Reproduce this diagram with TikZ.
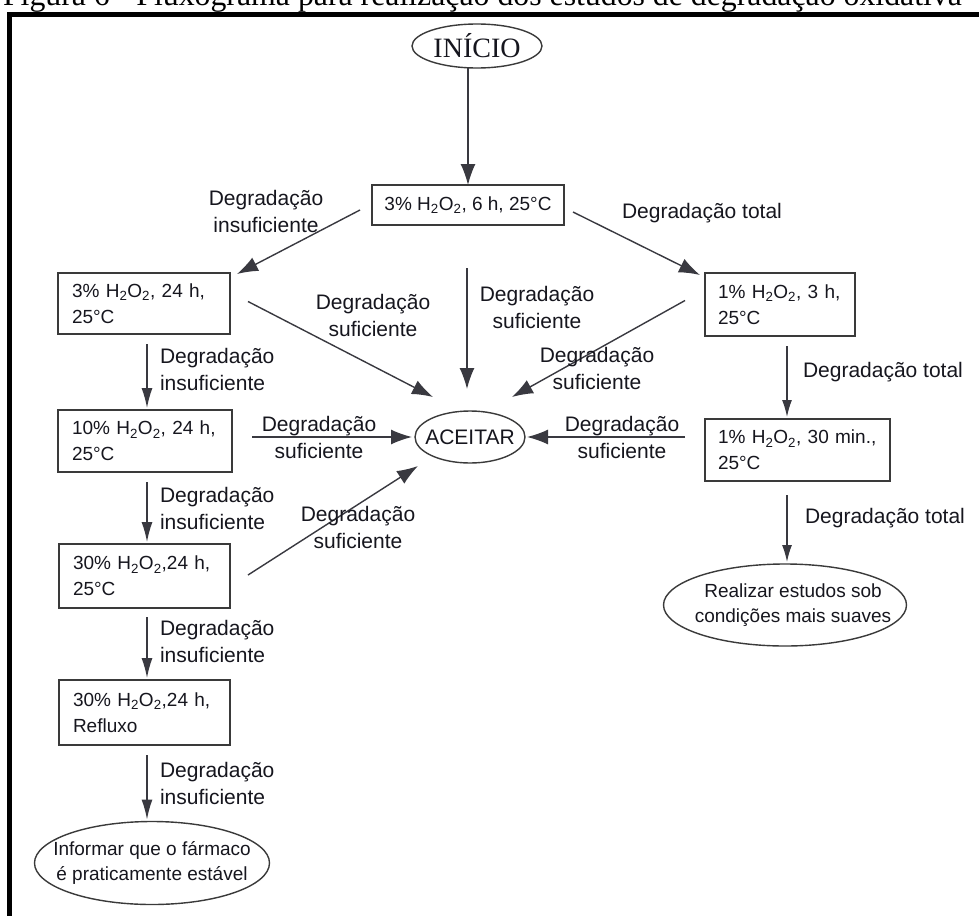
\documentclass[tikz,border=0pt]{standalone}
\usepackage{fontspec}
\setmainfont{Liberation Sans}
\newfontfamily\timesfont{Liberation Serif}
\usetikzlibrary{shapes.geometric,arrows.meta,calc}

\definecolor{ink}{HTML}{16161E}
\definecolor{edge}{HTML}{3A3A3A}

\tikzset{
  every node/.style={inner sep=0pt, outer sep=0pt, text=ink},
  stepbox/.style={draw=edge, line width=1.3pt, rectangle, align=left,
    inner xsep=14pt, text width=#1, font=\fontsize{19}{26}\selectfont},
  onelinebox/.style={draw=edge, line width=1.3pt, rectangle,
    font=\fontsize{19}{26}\selectfont},
  oval/.style={draw=edge, line width=1.4pt, ellipse},
  ovaltext/.style={align=center, font=\fontsize{19}{25}\selectfont},
  lbl/.style={align=center, font=\fontsize{21}{27}\selectfont},
  lbll/.style={align=left, anchor=west, font=\fontsize{21}{27}\selectfont},
  arr/.style={draw=ink!85, line width=1.4pt, -{Latex[length=21pt,width=15pt]}},
  varr/.style={draw=ink!85, line width=1.4pt, -{Latex[length=20pt,width=11pt]}},
  rarr/.style={draw=ink!85, line width=1.4pt, -{Latex[length=17pt,width=10pt]}},
}

\begin{document}
\begin{tikzpicture}[x=1pt,y=-1pt]
\useasboundingbox (0,0) rectangle (979,915);
\fill[white] (0,0) rectangle (979,915);

% caption line, partly above the page edge
\node[anchor=base west, font=\timesfont\fontsize{31.8}{32}\selectfont, text=black]
  (caption) at (3,6) {Figura 6 - Fluxograma para realização dos estudos de degradação oxidativa};

% outer frame (top and left sides)
\draw[line width=4.8pt, line join=miter] (9.5,930) -- (9.5,14.5) -- (985,14.5);

% start
\node[oval, minimum width=130pt, minimum height=44pt] (inicio) at (477,46) {};
\node[font=\timesfont\fontsize{28}{28}\selectfont] at (inicio) {INÍCIO};

% left column
\node[onelinebox, minimum width=192pt, minimum height=40pt] (b1) at (468,205)
  {3\% H\textsubscript{2}O\textsubscript{2}, 6 h, 25°C};
\node[stepbox=144pt, minimum height=61pt] (b2) at (144,303.5)
  {3\% H\textsubscript{2}O\textsubscript{2}, 24 h,\\25°C};
\node[stepbox=146pt, minimum height=62pt] (b3) at (145,441)
  {10\% H\textsubscript{2}O\textsubscript{2}, 24 h,\\25°C};
\node[stepbox=143pt, minimum height=64pt] (b4) at (144.5,576)
  {30\% H\textsubscript{2}O\textsubscript{2},24 h,\\25°C};
\node[stepbox=143pt, minimum height=65pt] (b5) at (144.5,712.5)
  {30\% H\textsubscript{2}O\textsubscript{2},24 h,\\Refluxo};

% right column
\node[stepbox=124pt, minimum height=63pt, inner xsep=13pt] (br1) at (780,304.5)
  {1\% H\textsubscript{2}O\textsubscript{2}, 3 h,\\25°C};
\node[stepbox=159pt, minimum height=62pt, inner xsep=13pt] (br2) at (797.5,450)
  {1\% H\textsubscript{2}O\textsubscript{2}, 30 min.,\\25°C};

% outcomes
\node[oval, minimum width=110pt, minimum height=52pt] (aceitar) at (470,437) {};
\node[font=\fontsize{21}{21}\selectfont] at (aceitar) {ACEITAR};

\node[oval, minimum width=235pt, minimum height=83pt] (estavel) at (152,863) {};
\node[ovaltext] at (estavel) {Informar que o fármaco\\é praticamente estável};

\node[oval, minimum width=243pt, minimum height=82pt] (suaves) at (785,605) {};
\node[ovaltext] at ($(suaves)+(8,0)$) {Realizar estudos sob\\condições mais suaves};

% connectors from the first test
\draw[arr] (inicio.south -| b1.north) -- (b1.north);
\draw[arr] ($(b1.west)+(-12,5)$) -- ($(b2.north east)+(7,1)$);
\draw[arr] ($(b1.east)+(9,7)$) -- ($(br1.north west)+(-5,2)$);
\draw[arr] ($(b1.south)+(-1,43)$) -- ($(aceitar.north)+(-3,-22)$);

% connectors into ACEITAR
\draw[arr] ($(b2.east)+(18,-2)$) -- ($(aceitar.center)+(-37,-40)$);
\draw[arr] ($(br1.west)+(-20,-4)$) -- ($(aceitar.center)+(42,-40)$);
\draw[arr] ($(b3.east)+(20,-4)$) -- ($(aceitar.west)+(-3,0)$);
\draw[arr] ($(br2.west)+(-20,-13)$) -- ($(aceitar.east)+(2,0)$);
\draw[arr] ($(b4.east)+(18,-1)$) -- ($(aceitar.center)+(-52,29)$);

% vertical chain, left
\draw[varr] ($(b2.south)+(3,10)$) -- ($(b3.north)+(2,-2)$);
\draw[varr] ($(b3.south)+(2,10)$) -- ($(b4.north)+(2.5,-2)$);
\draw[varr] ($(b4.south)+(2.5,9)$) -- ($(b5.north)+(2.5,-2)$);
\draw[varr] ($(b5.south)+(2.5,10)$) -- ($(estavel.north)+(-5,-2)$);

% vertical chain, right
\draw[rarr] ($(br1.south)+(7,10)$) -- ($(br2.north)+(-10.5,-2)$);
\draw[rarr] ($(br2.south)+(-10.5,14)$) -- ($(suaves.north)+(2,-2)$);

% labels
\node[lbl] (l1) at (266,211) {Degradação\\insuficiente};
\node[lbll] (l2) at (622,213) {Degradação total};
\node[lbl] (l3) at (537,307) {Degradação\\suficiente};
\node[lbl] (l4) at (373,315) {Degradação\\suficiente};
\node[lbl] (l5) at (597,368) {Degradação\\suficiente};
\node[lbl] (l6) at (319,437) {Degradação\\suficiente};
\node[lbl] (l7) at (622,437) {Degradação\\suficiente};
\node[lbl] (l8) at (358,527) {Degradação\\suficiente};

\node[lbll] (l9)  at (160,369) {Degradação\\insuficiente};
\node[lbll] (l10) at (160,508) {Degradação\\insuficiente};
\node[lbll] (l11) at (160,641) {Degradação\\insuficiente};
\node[lbll] (l12) at (160,783) {Degradação\\insuficiente};

\node[lbll] (l13) at (803,372) {Degradação total};
\node[lbll] (l14) at (805,518) {Degradação total};
\end{tikzpicture}
\end{document}
